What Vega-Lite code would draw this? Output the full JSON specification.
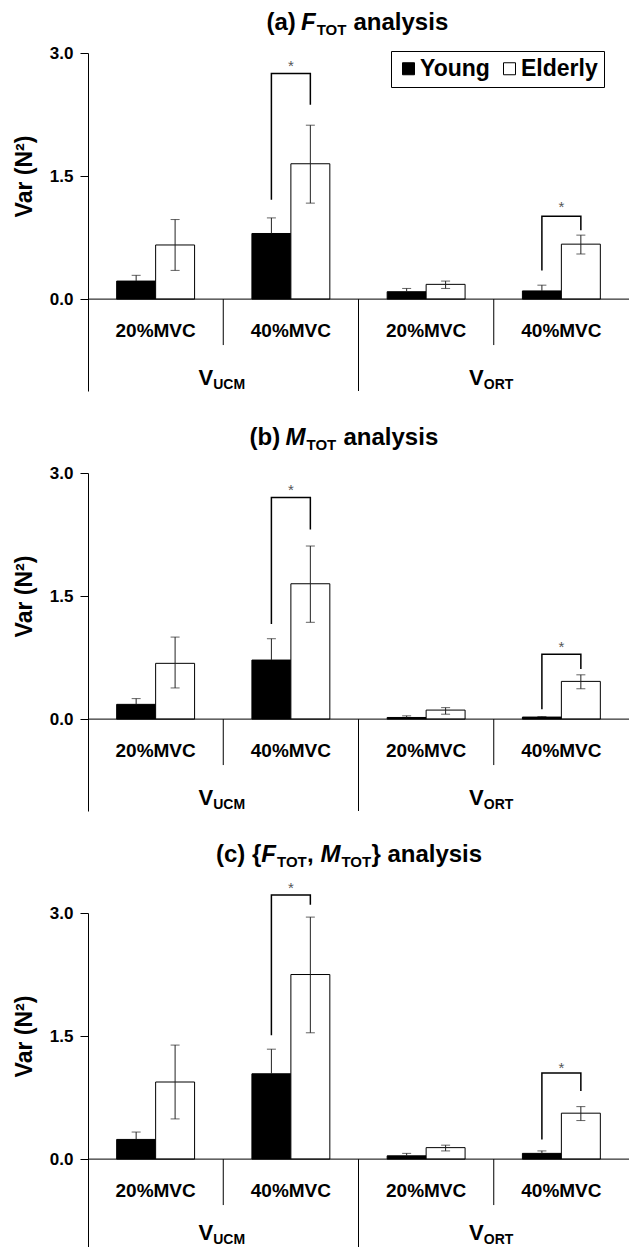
{
  "$schema": "https://vega.github.io/schema/vega-lite/v6.json",
  "background": "white",
  "padding": {"left": 13, "top": 10, "right": 0, "bottom": 0},
  "bounds": "flush",
  "spacing": 82,
  "config": {
    "view": {"stroke": null},
    "scale": {"bandPaddingInner": 0, "bandPaddingOuter": 0},
    "font": "Liberation Sans"
  },
  "datasets": {
    "bars": [
      {"p": "a", "cond": "VUCM 20%MVC", "age": "Young", "v": 0.22, "lo": 0.15, "hi": 0.29},
      {"p": "a", "cond": "VUCM 20%MVC", "age": "Elderly", "v": 0.66, "lo": 0.35, "hi": 0.97},
      {"p": "a", "cond": "VUCM 40%MVC", "age": "Young", "v": 0.80, "lo": 0.61, "hi": 0.99},
      {"p": "a", "cond": "VUCM 40%MVC", "age": "Elderly", "v": 1.65, "lo": 1.17, "hi": 2.12},
      {"p": "a", "cond": "VORT 20%MVC", "age": "Young", "v": 0.09, "lo": 0.05, "hi": 0.13},
      {"p": "a", "cond": "VORT 20%MVC", "age": "Elderly", "v": 0.18, "lo": 0.13, "hi": 0.22},
      {"p": "a", "cond": "VORT 40%MVC", "age": "Young", "v": 0.10, "lo": 0.03, "hi": 0.17},
      {"p": "a", "cond": "VORT 40%MVC", "age": "Elderly", "v": 0.67, "lo": 0.55, "hi": 0.78},
      {"p": "b", "cond": "VUCM 20%MVC", "age": "Young", "v": 0.18, "lo": 0.11, "hi": 0.25},
      {"p": "b", "cond": "VUCM 20%MVC", "age": "Elderly", "v": 0.68, "lo": 0.38, "hi": 1.00},
      {"p": "b", "cond": "VUCM 40%MVC", "age": "Young", "v": 0.72, "lo": 0.46, "hi": 0.98},
      {"p": "b", "cond": "VUCM 40%MVC", "age": "Elderly", "v": 1.65, "lo": 1.18, "hi": 2.11},
      {"p": "b", "cond": "VORT 20%MVC", "age": "Young", "v": 0.02, "lo": 0.005, "hi": 0.04},
      {"p": "b", "cond": "VORT 20%MVC", "age": "Elderly", "v": 0.11, "lo": 0.06, "hi": 0.14},
      {"p": "b", "cond": "VORT 40%MVC", "age": "Young", "v": 0.025, "lo": 0.015, "hi": 0.032},
      {"p": "b", "cond": "VORT 40%MVC", "age": "Elderly", "v": 0.46, "lo": 0.37, "hi": 0.54},
      {"p": "c", "cond": "VUCM 20%MVC", "age": "Young", "v": 0.24, "lo": 0.14, "hi": 0.33},
      {"p": "c", "cond": "VUCM 20%MVC", "age": "Elderly", "v": 0.94, "lo": 0.49, "hi": 1.39},
      {"p": "c", "cond": "VUCM 40%MVC", "age": "Young", "v": 1.04, "lo": 0.73, "hi": 1.34},
      {"p": "c", "cond": "VUCM 40%MVC", "age": "Elderly", "v": 2.25, "lo": 1.54, "hi": 2.95},
      {"p": "c", "cond": "VORT 20%MVC", "age": "Young", "v": 0.04, "lo": 0.01, "hi": 0.07},
      {"p": "c", "cond": "VORT 20%MVC", "age": "Elderly", "v": 0.14, "lo": 0.10, "hi": 0.17},
      {"p": "c", "cond": "VORT 40%MVC", "age": "Young", "v": 0.07, "lo": 0.04, "hi": 0.10},
      {"p": "c", "cond": "VORT 40%MVC", "age": "Elderly", "v": 0.56, "lo": 0.47, "hi": 0.64}
    ],
    "brk": [
      {"p": "a", "cond": "VUCM 40%MVC", "age": "Young", "k": 1, "v": 1.21},
      {"p": "a", "cond": "VUCM 40%MVC", "age": "Young", "k": 2, "v": 2.75},
      {"p": "a", "cond": "VUCM 40%MVC", "age": "Elderly", "k": 3, "v": 2.75},
      {"p": "a", "cond": "VUCM 40%MVC", "age": "Elderly", "k": 4, "v": 2.37},
      {"p": "a", "cond": "VORT 40%MVC", "age": "Young", "k": 1, "v": 0.35},
      {"p": "a", "cond": "VORT 40%MVC", "age": "Young", "k": 2, "v": 1.01},
      {"p": "a", "cond": "VORT 40%MVC", "age": "Elderly", "k": 3, "v": 1.01},
      {"p": "a", "cond": "VORT 40%MVC", "age": "Elderly", "k": 4, "v": 0.84},
      {"p": "b", "cond": "VUCM 40%MVC", "age": "Young", "k": 1, "v": 1.16},
      {"p": "b", "cond": "VUCM 40%MVC", "age": "Young", "k": 2, "v": 2.70},
      {"p": "b", "cond": "VUCM 40%MVC", "age": "Elderly", "k": 3, "v": 2.70},
      {"p": "b", "cond": "VUCM 40%MVC", "age": "Elderly", "k": 4, "v": 2.31},
      {"p": "b", "cond": "VORT 40%MVC", "age": "Young", "k": 1, "v": 0.12},
      {"p": "b", "cond": "VORT 40%MVC", "age": "Young", "k": 2, "v": 0.79},
      {"p": "b", "cond": "VORT 40%MVC", "age": "Elderly", "k": 3, "v": 0.79},
      {"p": "b", "cond": "VORT 40%MVC", "age": "Elderly", "k": 4, "v": 0.61},
      {"p": "c", "cond": "VUCM 40%MVC", "age": "Young", "k": 1, "v": 1.51},
      {"p": "c", "cond": "VUCM 40%MVC", "age": "Young", "k": 2, "v": 3.22},
      {"p": "c", "cond": "VUCM 40%MVC", "age": "Elderly", "k": 3, "v": 3.22},
      {"p": "c", "cond": "VUCM 40%MVC", "age": "Elderly", "k": 4, "v": 3.10},
      {"p": "c", "cond": "VORT 40%MVC", "age": "Young", "k": 1, "v": 0.24},
      {"p": "c", "cond": "VORT 40%MVC", "age": "Young", "k": 2, "v": 1.05},
      {"p": "c", "cond": "VORT 40%MVC", "age": "Elderly", "k": 3, "v": 1.05},
      {"p": "c", "cond": "VORT 40%MVC", "age": "Elderly", "k": 4, "v": 0.83}
    ],
    "stars": [
      {"p": "a", "cond": "VUCM 40%MVC", "v": 2.88},
      {"p": "a", "cond": "VORT 40%MVC", "v": 1.16},
      {"p": "b", "cond": "VUCM 40%MVC", "v": 2.83},
      {"p": "b", "cond": "VORT 40%MVC", "v": 0.92},
      {"p": "c", "cond": "VUCM 40%MVC", "v": 3.34},
      {"p": "c", "cond": "VORT 40%MVC", "v": 1.15}
    ],
    "conds": [
      {"cond": "VUCM 20%MVC", "mvc": "20%MVC"},
      {"cond": "VUCM 40%MVC", "mvc": "40%MVC"},
      {"cond": "VORT 20%MVC", "mvc": "20%MVC"},
      {"cond": "VORT 40%MVC", "mvc": "40%MVC"}
    ],
    "groups": [
      {"cond": "VUCM 40%MVC", "sub": "UCM"},
      {"cond": "VORT 40%MVC", "sub": "ORT"}
    ],
    "shortsep": [{"cond": "VUCM 40%MVC"}, {"cond": "VORT 40%MVC"}],
    "longsep": [{"cond": "VORT 20%MVC"}]
  },
  "vconcat": [
    {
      "width": 541, "height": 338,
      "layer": [
        {"data": {"name": "bars"}, "transform": [{"filter": "datum.p === 'a'"}],
         "mark": {"type": "bar", "stroke": "black", "strokeWidth": 1},
         "encoding": {
           "x": {"field": "cond", "type": "nominal", "scale": {"domain": ["VUCM 20%MVC", "VUCM 40%MVC", "VORT 20%MVC", "VORT 40%MVC"], "paddingInner": 0, "paddingOuter": 0}, "axis": null},
           "xOffset": {"field": "age", "type": "nominal", "scale": {"domain": ["Young", "Elderly"], "paddingOuter": 0.736, "paddingInner": 0}},
           "y": {"field": "v", "type": "quantitative", "scale": {"domain": [-1.12, 3.0], "nice": false, "zero": false},
                 "axis": {"values": [0, 1.5, 3], "format": ".1f", "title": "Var (N²)", "titleFont": "Liberation Sans", "titleFontSize": 23, "titleFontWeight": "bold", "titleColor": "black", "titleAngle": 270, "titleAlign": "center", "titleBaseline": "alphabetic", "titleX": -57, "titleY": 123, "labelFont": "Liberation Sans", "labelFontSize": 17, "labelFontWeight": "bold", "labelColor": "black", "labelPadding": 7, "tickSize": 8, "tickColor": "black", "domainColor": "black", "grid": false}},
           "fill": {"field": "age", "type": "nominal", "scale": {"domain": ["Young", "Elderly"], "range": ["#000000", "#ffffff"]},
                    "legend": {"orient": "none", "legendX": 303, "legendY": -2, "direction": "horizontal", "columns": 2, "title": null, "symbolType": "square", "symbolSize": 144, "symbolStrokeColor": "black", "symbolStrokeWidth": 1, "symbolOffset": 0, "labelFont": "Liberation Sans", "labelFontSize": 23, "labelFontWeight": "bold", "labelColor": "black", "labelOffset": 0, "columnPadding": 8, "strokeColor": "black", "padding": 6, "fillColor": "white"}}
         }},
        {"data": {"name": "bars"}, "transform": [{"filter": "datum.p === 'a' && datum.age === 'Elderly'"}],
         "mark": {"type": "rule", "color": "#222222", "strokeWidth": 1},
         "encoding": {
           "x": {"field": "cond", "type": "nominal", "scale": {"domain": ["VUCM 20%MVC", "VUCM 40%MVC", "VORT 20%MVC", "VORT 40%MVC"], "paddingInner": 0, "paddingOuter": 0}, "axis": null},
           "xOffset": {"field": "age", "type": "nominal", "scale": {"domain": ["Young", "Elderly"], "paddingOuter": 0.736, "paddingInner": 0}},
           "y": {"field": "lo", "type": "quantitative"}, "y2": {"field": "hi"}}},
        {"data": {"name": "bars"}, "transform": [{"filter": "datum.p === 'a' && datum.age === 'Young'"}],
         "mark": {"type": "rule", "color": "#222222", "strokeWidth": 1},
         "encoding": {
           "x": {"field": "cond", "type": "nominal", "scale": {"domain": ["VUCM 20%MVC", "VUCM 40%MVC", "VORT 20%MVC", "VORT 40%MVC"], "paddingInner": 0, "paddingOuter": 0}, "axis": null},
           "xOffset": {"field": "age", "type": "nominal", "scale": {"domain": ["Young", "Elderly"], "paddingOuter": 0.736, "paddingInner": 0}},
           "y": {"field": "v", "type": "quantitative"}, "y2": {"field": "hi"}}},
        {"data": {"name": "bars"}, "transform": [{"filter": "datum.p === 'a'"}],
         "mark": {"type": "tick", "color": "#222222", "size": 9, "thickness": 1, "orient": "horizontal"},
         "encoding": {
           "x": {"field": "cond", "type": "nominal", "scale": {"domain": ["VUCM 20%MVC", "VUCM 40%MVC", "VORT 20%MVC", "VORT 40%MVC"], "paddingInner": 0, "paddingOuter": 0}, "axis": null},
           "xOffset": {"field": "age", "type": "nominal", "scale": {"domain": ["Young", "Elderly"], "paddingOuter": 0.736, "paddingInner": 0}},
           "y": {"field": "hi", "type": "quantitative"}}},
        {"data": {"name": "bars"}, "transform": [{"filter": "datum.p === 'a' && datum.age === 'Elderly'"}],
         "mark": {"type": "tick", "color": "#222222", "size": 9, "thickness": 1, "orient": "horizontal"},
         "encoding": {
           "x": {"field": "cond", "type": "nominal", "scale": {"domain": ["VUCM 20%MVC", "VUCM 40%MVC", "VORT 20%MVC", "VORT 40%MVC"], "paddingInner": 0, "paddingOuter": 0}, "axis": null},
           "xOffset": {"field": "age", "type": "nominal", "scale": {"domain": ["Young", "Elderly"], "paddingOuter": 0.736, "paddingInner": 0}},
           "y": {"field": "lo", "type": "quantitative"}}},
        {"data": {"name": "brk"}, "transform": [{"filter": "datum.p === 'a'"}],
         "mark": {"type": "line", "color": "black", "strokeWidth": 1.5},
         "encoding": {
           "x": {"field": "cond", "type": "nominal", "scale": {"domain": ["VUCM 20%MVC", "VUCM 40%MVC", "VORT 20%MVC", "VORT 40%MVC"], "paddingInner": 0, "paddingOuter": 0}, "axis": null},
           "xOffset": {"field": "age", "type": "nominal", "scale": {"domain": ["Young", "Elderly"], "paddingOuter": 0.736, "paddingInner": 0}},
           "y": {"field": "v", "type": "quantitative"},
           "detail": {"field": "cond"}, "order": {"field": "k"}}},
        {"data": {"name": "stars"}, "transform": [{"filter": "datum.p === 'a'"}],
         "mark": {"type": "text", "text": "*", "fontSize": 15, "color": "#555555", "baseline": "alphabetic", "dy": 8},
         "encoding": {
           "x": {"field": "cond", "type": "nominal", "scale": {"domain": ["VUCM 20%MVC", "VUCM 40%MVC", "VORT 20%MVC", "VORT 40%MVC"], "paddingInner": 0, "paddingOuter": 0}, "axis": null},
           "y": {"field": "v", "type": "quantitative"}}},
        {"data": {"values": [{}]}, "mark": {"type": "rule", "color": "black", "strokeWidth": 1},
         "encoding": {"y": {"datum": 0, "type": "quantitative"}}},
        {"data": {"name": "shortsep"}, "mark": {"type": "rule", "color": "black", "strokeWidth": 1},
         "encoding": {
           "x": {"field": "cond", "type": "nominal", "bandPosition": 0, "scale": {"domain": ["VUCM 20%MVC", "VUCM 40%MVC", "VORT 20%MVC", "VORT 40%MVC"], "paddingInner": 0, "paddingOuter": 0}, "axis": null},
           "y": {"datum": 0, "type": "quantitative"}, "y2": {"datum": -0.56}}},
        {"data": {"name": "longsep"}, "mark": {"type": "rule", "color": "black", "strokeWidth": 1},
         "encoding": {
           "x": {"field": "cond", "type": "nominal", "bandPosition": 0, "scale": {"domain": ["VUCM 20%MVC", "VUCM 40%MVC", "VORT 20%MVC", "VORT 40%MVC"], "paddingInner": 0, "paddingOuter": 0}, "axis": null},
           "y": {"datum": 0, "type": "quantitative"}, "y2": {"datum": -1.12}}},
        {"data": {"name": "conds"}, "mark": {"type": "text", "fontSize": 19, "fontWeight": "bold", "color": "black", "baseline": "alphabetic"},
         "encoding": {
           "x": {"field": "cond", "type": "nominal", "scale": {"domain": ["VUCM 20%MVC", "VUCM 40%MVC", "VORT 20%MVC", "VORT 40%MVC"], "paddingInner": 0, "paddingOuter": 0}, "axis": null},
           "y": {"datum": -0.46, "type": "quantitative"}, "text": {"field": "mvc"}}},
        {"data": {"name": "groups"}, "mark": {"type": "text", "text": "V", "align": "right", "dx": -10, "fontSize": 22, "fontWeight": "bold", "color": "black", "baseline": "alphabetic"},
         "encoding": {
           "x": {"field": "cond", "type": "nominal", "bandPosition": 0, "scale": {"domain": ["VUCM 20%MVC", "VUCM 40%MVC", "VORT 20%MVC", "VORT 40%MVC"], "paddingInner": 0, "paddingOuter": 0}, "axis": null},
           "y": {"datum": -1.045, "type": "quantitative"}}},
        {"data": {"name": "groups"}, "mark": {"type": "text", "align": "left", "dx": -10, "fontSize": 14, "fontWeight": "bold", "color": "black", "baseline": "alphabetic"},
         "encoding": {
           "x": {"field": "cond", "type": "nominal", "bandPosition": 0, "scale": {"domain": ["VUCM 20%MVC", "VUCM 40%MVC", "VORT 20%MVC", "VORT 40%MVC"], "paddingInner": 0, "paddingOuter": 0}, "axis": null},
           "y": {"datum": -1.09, "type": "quantitative"}, "text": {"field": "sub"}}},
        {"data": {"values": [{}]}, "mark": {"type": "text", "text": "(a)", "align": "left", "dx": -92, "fontSize": 24, "fontWeight": "bold", "color": "black", "baseline": "alphabetic"},
         "encoding": {"x": {"datum": "VORT 20%MVC", "type": "nominal", "bandPosition": 0}, "y": {"datum": 3.285, "type": "quantitative"}}},
        {"data": {"values": [{}]}, "mark": {"type": "text", "text": "F", "align": "left", "dx": -57.5, "fontSize": 24, "fontWeight": "bold", "fontStyle": "italic", "color": "black", "baseline": "alphabetic"},
         "encoding": {"x": {"datum": "VORT 20%MVC", "type": "nominal", "bandPosition": 0}, "y": {"datum": 3.285, "type": "quantitative"}}},
        {"data": {"values": [{}]}, "mark": {"type": "text", "text": "TOT", "align": "left", "dx": -41.8, "dy": 5, "fontSize": 15, "fontWeight": "bold", "color": "black", "baseline": "alphabetic"},
         "encoding": {"x": {"datum": "VORT 20%MVC", "type": "nominal", "bandPosition": 0}, "y": {"datum": 3.285, "type": "quantitative"}}},
        {"data": {"values": [{}]}, "mark": {"type": "text", "text": "analysis", "align": "left", "dx": -5, "fontSize": 24, "fontWeight": "bold", "color": "black", "baseline": "alphabetic"},
         "encoding": {"x": {"datum": "VORT 20%MVC", "type": "nominal", "bandPosition": 0}, "y": {"datum": 3.285, "type": "quantitative"}}}
      ]
    },
    {
      "bounds": "flush",
      "spacing": 102,
      "vconcat": [
        {
          "width": 541, "height": 338,
          "layer": [
            {"data": {"name": "bars"}, "transform": [{"filter": "datum.p === 'b'"}],
             "mark": {"type": "bar", "stroke": "black", "strokeWidth": 1},
             "encoding": {
               "x": {"field": "cond", "type": "nominal", "scale": {"domain": ["VUCM 20%MVC", "VUCM 40%MVC", "VORT 20%MVC", "VORT 40%MVC"], "paddingInner": 0, "paddingOuter": 0}, "axis": null},
               "xOffset": {"field": "age", "type": "nominal", "scale": {"domain": ["Young", "Elderly"], "paddingOuter": 0.736, "paddingInner": 0}},
               "y": {"field": "v", "type": "quantitative", "scale": {"domain": [-1.12, 3.0], "nice": false, "zero": false},
                     "axis": {"values": [0, 1.5, 3], "format": ".1f", "title": "Var (N²)", "titleFont": "Liberation Sans", "titleFontSize": 23, "titleFontWeight": "bold", "titleColor": "black", "titleAngle": 270, "titleAlign": "center", "titleBaseline": "alphabetic", "titleX": -57, "titleY": 123, "labelFont": "Liberation Sans", "labelFontSize": 17, "labelFontWeight": "bold", "labelColor": "black", "labelPadding": 7, "tickSize": 8, "tickColor": "black", "domainColor": "black", "grid": false}},
               "fill": {"field": "age", "type": "nominal", "scale": {"domain": ["Young", "Elderly"], "range": ["#000000", "#ffffff"]}, "legend": null}
             }},
            {"data": {"name": "bars"}, "transform": [{"filter": "datum.p === 'b' && datum.age === 'Elderly'"}],
             "mark": {"type": "rule", "color": "#222222", "strokeWidth": 1},
             "encoding": {
               "x": {"field": "cond", "type": "nominal", "scale": {"domain": ["VUCM 20%MVC", "VUCM 40%MVC", "VORT 20%MVC", "VORT 40%MVC"], "paddingInner": 0, "paddingOuter": 0}, "axis": null},
               "xOffset": {"field": "age", "type": "nominal", "scale": {"domain": ["Young", "Elderly"], "paddingOuter": 0.736, "paddingInner": 0}},
               "y": {"field": "lo", "type": "quantitative"}, "y2": {"field": "hi"}}},
            {"data": {"name": "bars"}, "transform": [{"filter": "datum.p === 'b' && datum.age === 'Young'"}],
             "mark": {"type": "rule", "color": "#222222", "strokeWidth": 1},
             "encoding": {
               "x": {"field": "cond", "type": "nominal", "scale": {"domain": ["VUCM 20%MVC", "VUCM 40%MVC", "VORT 20%MVC", "VORT 40%MVC"], "paddingInner": 0, "paddingOuter": 0}, "axis": null},
               "xOffset": {"field": "age", "type": "nominal", "scale": {"domain": ["Young", "Elderly"], "paddingOuter": 0.736, "paddingInner": 0}},
               "y": {"field": "v", "type": "quantitative"}, "y2": {"field": "hi"}}},
            {"data": {"name": "bars"}, "transform": [{"filter": "datum.p === 'b'"}],
             "mark": {"type": "tick", "color": "#222222", "size": 9, "thickness": 1, "orient": "horizontal"},
             "encoding": {
               "x": {"field": "cond", "type": "nominal", "scale": {"domain": ["VUCM 20%MVC", "VUCM 40%MVC", "VORT 20%MVC", "VORT 40%MVC"], "paddingInner": 0, "paddingOuter": 0}, "axis": null},
               "xOffset": {"field": "age", "type": "nominal", "scale": {"domain": ["Young", "Elderly"], "paddingOuter": 0.736, "paddingInner": 0}},
               "y": {"field": "hi", "type": "quantitative"}}},
            {"data": {"name": "bars"}, "transform": [{"filter": "datum.p === 'b' && datum.age === 'Elderly'"}],
             "mark": {"type": "tick", "color": "#222222", "size": 9, "thickness": 1, "orient": "horizontal"},
             "encoding": {
               "x": {"field": "cond", "type": "nominal", "scale": {"domain": ["VUCM 20%MVC", "VUCM 40%MVC", "VORT 20%MVC", "VORT 40%MVC"], "paddingInner": 0, "paddingOuter": 0}, "axis": null},
               "xOffset": {"field": "age", "type": "nominal", "scale": {"domain": ["Young", "Elderly"], "paddingOuter": 0.736, "paddingInner": 0}},
               "y": {"field": "lo", "type": "quantitative"}}},
            {"data": {"name": "brk"}, "transform": [{"filter": "datum.p === 'b'"}],
             "mark": {"type": "line", "color": "black", "strokeWidth": 1.5},
             "encoding": {
               "x": {"field": "cond", "type": "nominal", "scale": {"domain": ["VUCM 20%MVC", "VUCM 40%MVC", "VORT 20%MVC", "VORT 40%MVC"], "paddingInner": 0, "paddingOuter": 0}, "axis": null},
               "xOffset": {"field": "age", "type": "nominal", "scale": {"domain": ["Young", "Elderly"], "paddingOuter": 0.736, "paddingInner": 0}},
               "y": {"field": "v", "type": "quantitative"},
               "detail": {"field": "cond"}, "order": {"field": "k"}}},
            {"data": {"name": "stars"}, "transform": [{"filter": "datum.p === 'b'"}],
             "mark": {"type": "text", "text": "*", "fontSize": 15, "color": "#555555", "baseline": "alphabetic", "dy": 8},
             "encoding": {
               "x": {"field": "cond", "type": "nominal", "scale": {"domain": ["VUCM 20%MVC", "VUCM 40%MVC", "VORT 20%MVC", "VORT 40%MVC"], "paddingInner": 0, "paddingOuter": 0}, "axis": null},
               "y": {"field": "v", "type": "quantitative"}}},
            {"data": {"values": [{}]}, "mark": {"type": "rule", "color": "black", "strokeWidth": 1},
             "encoding": {"y": {"datum": 0, "type": "quantitative"}}},
            {"data": {"name": "shortsep"}, "mark": {"type": "rule", "color": "black", "strokeWidth": 1},
             "encoding": {
               "x": {"field": "cond", "type": "nominal", "bandPosition": 0, "scale": {"domain": ["VUCM 20%MVC", "VUCM 40%MVC", "VORT 20%MVC", "VORT 40%MVC"], "paddingInner": 0, "paddingOuter": 0}, "axis": null},
               "y": {"datum": 0, "type": "quantitative"}, "y2": {"datum": -0.56}}},
            {"data": {"name": "longsep"}, "mark": {"type": "rule", "color": "black", "strokeWidth": 1},
             "encoding": {
               "x": {"field": "cond", "type": "nominal", "bandPosition": 0, "scale": {"domain": ["VUCM 20%MVC", "VUCM 40%MVC", "VORT 20%MVC", "VORT 40%MVC"], "paddingInner": 0, "paddingOuter": 0}, "axis": null},
               "y": {"datum": 0, "type": "quantitative"}, "y2": {"datum": -1.12}}},
            {"data": {"name": "conds"}, "mark": {"type": "text", "fontSize": 19, "fontWeight": "bold", "color": "black", "baseline": "alphabetic"},
             "encoding": {
               "x": {"field": "cond", "type": "nominal", "scale": {"domain": ["VUCM 20%MVC", "VUCM 40%MVC", "VORT 20%MVC", "VORT 40%MVC"], "paddingInner": 0, "paddingOuter": 0}, "axis": null},
               "y": {"datum": -0.46, "type": "quantitative"}, "text": {"field": "mvc"}}},
            {"data": {"name": "groups"}, "mark": {"type": "text", "text": "V", "align": "right", "dx": -10, "fontSize": 22, "fontWeight": "bold", "color": "black", "baseline": "alphabetic"},
             "encoding": {
               "x": {"field": "cond", "type": "nominal", "bandPosition": 0, "scale": {"domain": ["VUCM 20%MVC", "VUCM 40%MVC", "VORT 20%MVC", "VORT 40%MVC"], "paddingInner": 0, "paddingOuter": 0}, "axis": null},
               "y": {"datum": -1.045, "type": "quantitative"}}},
            {"data": {"name": "groups"}, "mark": {"type": "text", "align": "left", "dx": -10, "fontSize": 14, "fontWeight": "bold", "color": "black", "baseline": "alphabetic"},
             "encoding": {
               "x": {"field": "cond", "type": "nominal", "bandPosition": 0, "scale": {"domain": ["VUCM 20%MVC", "VUCM 40%MVC", "VORT 20%MVC", "VORT 40%MVC"], "paddingInner": 0, "paddingOuter": 0}, "axis": null},
               "y": {"datum": -1.09, "type": "quantitative"}, "text": {"field": "sub"}}},
            {"data": {"values": [{}]}, "mark": {"type": "text", "text": "(b)", "align": "left", "dx": -109, "fontSize": 24, "fontWeight": "bold", "color": "black", "baseline": "alphabetic"},
             "encoding": {"x": {"datum": "VORT 20%MVC", "type": "nominal", "bandPosition": 0}, "y": {"datum": 3.338, "type": "quantitative"}}},
            {"data": {"values": [{}]}, "mark": {"type": "text", "text": "M", "align": "left", "dx": -73, "fontSize": 24, "fontWeight": "bold", "fontStyle": "italic", "color": "black", "baseline": "alphabetic"},
             "encoding": {"x": {"datum": "VORT 20%MVC", "type": "nominal", "bandPosition": 0}, "y": {"datum": 3.338, "type": "quantitative"}}},
            {"data": {"values": [{}]}, "mark": {"type": "text", "text": "TOT", "align": "left", "dx": -52, "dy": 5, "fontSize": 15, "fontWeight": "bold", "color": "black", "baseline": "alphabetic"},
             "encoding": {"x": {"datum": "VORT 20%MVC", "type": "nominal", "bandPosition": 0}, "y": {"datum": 3.338, "type": "quantitative"}}},
            {"data": {"values": [{}]}, "mark": {"type": "text", "text": "analysis", "align": "left", "dx": -15, "fontSize": 24, "fontWeight": "bold", "color": "black", "baseline": "alphabetic"},
             "encoding": {"x": {"datum": "VORT 20%MVC", "type": "nominal", "bandPosition": 0}, "y": {"datum": 3.338, "type": "quantitative"}}}
          ]
        },
        {
          "width": 541, "height": 338,
          "layer": [
            {"data": {"name": "bars"}, "transform": [{"filter": "datum.p === 'c'"}],
             "mark": {"type": "bar", "stroke": "black", "strokeWidth": 1},
             "encoding": {
               "x": {"field": "cond", "type": "nominal", "scale": {"domain": ["VUCM 20%MVC", "VUCM 40%MVC", "VORT 20%MVC", "VORT 40%MVC"], "paddingInner": 0, "paddingOuter": 0}, "axis": null},
               "xOffset": {"field": "age", "type": "nominal", "scale": {"domain": ["Young", "Elderly"], "paddingOuter": 0.736, "paddingInner": 0}},
               "y": {"field": "v", "type": "quantitative", "scale": {"domain": [-1.12, 3.0], "nice": false, "zero": false},
                     "axis": {"values": [0, 1.5, 3], "format": ".1f", "title": "Var (N²)", "titleFont": "Liberation Sans", "titleFontSize": 23, "titleFontWeight": "bold", "titleColor": "black", "titleAngle": 270, "titleAlign": "center", "titleBaseline": "alphabetic", "titleX": -57, "titleY": 123, "labelFont": "Liberation Sans", "labelFontSize": 17, "labelFontWeight": "bold", "labelColor": "black", "labelPadding": 7, "tickSize": 8, "tickColor": "black", "domainColor": "black", "grid": false}},
               "fill": {"field": "age", "type": "nominal", "scale": {"domain": ["Young", "Elderly"], "range": ["#000000", "#ffffff"]}, "legend": null}
             }},
            {"data": {"name": "bars"}, "transform": [{"filter": "datum.p === 'c' && datum.age === 'Elderly'"}],
             "mark": {"type": "rule", "color": "#222222", "strokeWidth": 1},
             "encoding": {
               "x": {"field": "cond", "type": "nominal", "scale": {"domain": ["VUCM 20%MVC", "VUCM 40%MVC", "VORT 20%MVC", "VORT 40%MVC"], "paddingInner": 0, "paddingOuter": 0}, "axis": null},
               "xOffset": {"field": "age", "type": "nominal", "scale": {"domain": ["Young", "Elderly"], "paddingOuter": 0.736, "paddingInner": 0}},
               "y": {"field": "lo", "type": "quantitative"}, "y2": {"field": "hi"}}},
            {"data": {"name": "bars"}, "transform": [{"filter": "datum.p === 'c' && datum.age === 'Young'"}],
             "mark": {"type": "rule", "color": "#222222", "strokeWidth": 1},
             "encoding": {
               "x": {"field": "cond", "type": "nominal", "scale": {"domain": ["VUCM 20%MVC", "VUCM 40%MVC", "VORT 20%MVC", "VORT 40%MVC"], "paddingInner": 0, "paddingOuter": 0}, "axis": null},
               "xOffset": {"field": "age", "type": "nominal", "scale": {"domain": ["Young", "Elderly"], "paddingOuter": 0.736, "paddingInner": 0}},
               "y": {"field": "v", "type": "quantitative"}, "y2": {"field": "hi"}}},
            {"data": {"name": "bars"}, "transform": [{"filter": "datum.p === 'c'"}],
             "mark": {"type": "tick", "color": "#222222", "size": 9, "thickness": 1, "orient": "horizontal"},
             "encoding": {
               "x": {"field": "cond", "type": "nominal", "scale": {"domain": ["VUCM 20%MVC", "VUCM 40%MVC", "VORT 20%MVC", "VORT 40%MVC"], "paddingInner": 0, "paddingOuter": 0}, "axis": null},
               "xOffset": {"field": "age", "type": "nominal", "scale": {"domain": ["Young", "Elderly"], "paddingOuter": 0.736, "paddingInner": 0}},
               "y": {"field": "hi", "type": "quantitative"}}},
            {"data": {"name": "bars"}, "transform": [{"filter": "datum.p === 'c' && datum.age === 'Elderly'"}],
             "mark": {"type": "tick", "color": "#222222", "size": 9, "thickness": 1, "orient": "horizontal"},
             "encoding": {
               "x": {"field": "cond", "type": "nominal", "scale": {"domain": ["VUCM 20%MVC", "VUCM 40%MVC", "VORT 20%MVC", "VORT 40%MVC"], "paddingInner": 0, "paddingOuter": 0}, "axis": null},
               "xOffset": {"field": "age", "type": "nominal", "scale": {"domain": ["Young", "Elderly"], "paddingOuter": 0.736, "paddingInner": 0}},
               "y": {"field": "lo", "type": "quantitative"}}},
            {"data": {"name": "brk"}, "transform": [{"filter": "datum.p === 'c'"}],
             "mark": {"type": "line", "color": "black", "strokeWidth": 1.5},
             "encoding": {
               "x": {"field": "cond", "type": "nominal", "scale": {"domain": ["VUCM 20%MVC", "VUCM 40%MVC", "VORT 20%MVC", "VORT 40%MVC"], "paddingInner": 0, "paddingOuter": 0}, "axis": null},
               "xOffset": {"field": "age", "type": "nominal", "scale": {"domain": ["Young", "Elderly"], "paddingOuter": 0.736, "paddingInner": 0}},
               "y": {"field": "v", "type": "quantitative"},
               "detail": {"field": "cond"}, "order": {"field": "k"}}},
            {"data": {"name": "stars"}, "transform": [{"filter": "datum.p === 'c'"}],
             "mark": {"type": "text", "text": "*", "fontSize": 15, "color": "#555555", "baseline": "alphabetic", "dy": 8},
             "encoding": {
               "x": {"field": "cond", "type": "nominal", "scale": {"domain": ["VUCM 20%MVC", "VUCM 40%MVC", "VORT 20%MVC", "VORT 40%MVC"], "paddingInner": 0, "paddingOuter": 0}, "axis": null},
               "y": {"field": "v", "type": "quantitative"}}},
            {"data": {"values": [{}]}, "mark": {"type": "rule", "color": "black", "strokeWidth": 1},
             "encoding": {"y": {"datum": 0, "type": "quantitative"}}},
            {"data": {"name": "shortsep"}, "mark": {"type": "rule", "color": "black", "strokeWidth": 1},
             "encoding": {
               "x": {"field": "cond", "type": "nominal", "bandPosition": 0, "scale": {"domain": ["VUCM 20%MVC", "VUCM 40%MVC", "VORT 20%MVC", "VORT 40%MVC"], "paddingInner": 0, "paddingOuter": 0}, "axis": null},
               "y": {"datum": 0, "type": "quantitative"}, "y2": {"datum": -0.56}}},
            {"data": {"name": "longsep"}, "mark": {"type": "rule", "color": "black", "strokeWidth": 1},
             "encoding": {
               "x": {"field": "cond", "type": "nominal", "bandPosition": 0, "scale": {"domain": ["VUCM 20%MVC", "VUCM 40%MVC", "VORT 20%MVC", "VORT 40%MVC"], "paddingInner": 0, "paddingOuter": 0}, "axis": null},
               "y": {"datum": 0, "type": "quantitative"}, "y2": {"datum": -1.12}}},
            {"data": {"name": "conds"}, "mark": {"type": "text", "fontSize": 19, "fontWeight": "bold", "color": "black", "baseline": "alphabetic"},
             "encoding": {
               "x": {"field": "cond", "type": "nominal", "scale": {"domain": ["VUCM 20%MVC", "VUCM 40%MVC", "VORT 20%MVC", "VORT 40%MVC"], "paddingInner": 0, "paddingOuter": 0}, "axis": null},
               "y": {"datum": -0.46, "type": "quantitative"}, "text": {"field": "mvc"}}},
            {"data": {"name": "groups"}, "mark": {"type": "text", "text": "V", "align": "right", "dx": -10, "fontSize": 22, "fontWeight": "bold", "color": "black", "baseline": "alphabetic"},
             "encoding": {
               "x": {"field": "cond", "type": "nominal", "bandPosition": 0, "scale": {"domain": ["VUCM 20%MVC", "VUCM 40%MVC", "VORT 20%MVC", "VORT 40%MVC"], "paddingInner": 0, "paddingOuter": 0}, "axis": null},
               "y": {"datum": -0.99, "type": "quantitative"}}},
            {"data": {"name": "groups"}, "mark": {"type": "text", "align": "left", "dx": -10, "fontSize": 14, "fontWeight": "bold", "color": "black", "baseline": "alphabetic"},
             "encoding": {
               "x": {"field": "cond", "type": "nominal", "bandPosition": 0, "scale": {"domain": ["VUCM 20%MVC", "VUCM 40%MVC", "VORT 20%MVC", "VORT 40%MVC"], "paddingInner": 0, "paddingOuter": 0}, "axis": null},
               "y": {"datum": -1.035, "type": "quantitative"}, "text": {"field": "sub"}}},
            {"data": {"values": [{}]}, "mark": {"type": "text", "text": "(c)", "align": "left", "dx": -142.5, "fontSize": 24, "fontWeight": "bold", "color": "black", "baseline": "alphabetic"},
             "encoding": {"x": {"datum": "VORT 20%MVC", "type": "nominal", "bandPosition": 0}, "y": {"datum": 3.62, "type": "quantitative"}}},
            {"data": {"values": [{}]}, "mark": {"type": "text", "text": "{", "align": "left", "dx": -106.5, "fontSize": 24, "fontWeight": "bold", "color": "black", "baseline": "alphabetic"},
             "encoding": {"x": {"datum": "VORT 20%MVC", "type": "nominal", "bandPosition": 0}, "y": {"datum": 3.62, "type": "quantitative"}}},
            {"data": {"values": [{}]}, "mark": {"type": "text", "text": "F", "align": "left", "dx": -97.2, "fontSize": 24, "fontWeight": "bold", "fontStyle": "italic", "color": "black", "baseline": "alphabetic"},
             "encoding": {"x": {"datum": "VORT 20%MVC", "type": "nominal", "bandPosition": 0}, "y": {"datum": 3.62, "type": "quantitative"}}},
            {"data": {"values": [{}]}, "mark": {"type": "text", "text": "TOT", "align": "left", "dx": -81.5, "dy": 5, "fontSize": 15, "fontWeight": "bold", "color": "black", "baseline": "alphabetic"},
             "encoding": {"x": {"datum": "VORT 20%MVC", "type": "nominal", "bandPosition": 0}, "y": {"datum": 3.62, "type": "quantitative"}}},
            {"data": {"values": [{}]}, "mark": {"type": "text", "text": ",", "align": "left", "dx": -51.5, "fontSize": 24, "fontWeight": "bold", "color": "black", "baseline": "alphabetic"},
             "encoding": {"x": {"datum": "VORT 20%MVC", "type": "nominal", "bandPosition": 0}, "y": {"datum": 3.62, "type": "quantitative"}}},
            {"data": {"values": [{}]}, "mark": {"type": "text", "text": "M", "align": "left", "dx": -38.1, "fontSize": 24, "fontWeight": "bold", "fontStyle": "italic", "color": "black", "baseline": "alphabetic"},
             "encoding": {"x": {"datum": "VORT 20%MVC", "type": "nominal", "bandPosition": 0}, "y": {"datum": 3.62, "type": "quantitative"}}},
            {"data": {"values": [{}]}, "mark": {"type": "text", "text": "TOT", "align": "left", "dx": -17.1, "dy": 5, "fontSize": 15, "fontWeight": "bold", "color": "black", "baseline": "alphabetic"},
             "encoding": {"x": {"datum": "VORT 20%MVC", "type": "nominal", "bandPosition": 0}, "y": {"datum": 3.62, "type": "quantitative"}}},
            {"data": {"values": [{}]}, "mark": {"type": "text", "text": "}", "align": "left", "dx": 12.9, "fontSize": 24, "fontWeight": "bold", "color": "black", "baseline": "alphabetic"},
             "encoding": {"x": {"datum": "VORT 20%MVC", "type": "nominal", "bandPosition": 0}, "y": {"datum": 3.62, "type": "quantitative"}}},
            {"data": {"values": [{}]}, "mark": {"type": "text", "text": "analysis", "align": "left", "dx": 28.9, "fontSize": 24, "fontWeight": "bold", "color": "black", "baseline": "alphabetic"},
             "encoding": {"x": {"datum": "VORT 20%MVC", "type": "nominal", "bandPosition": 0}, "y": {"datum": 3.62, "type": "quantitative"}}}
          ]
        }
      ]
    }
  ]
}
